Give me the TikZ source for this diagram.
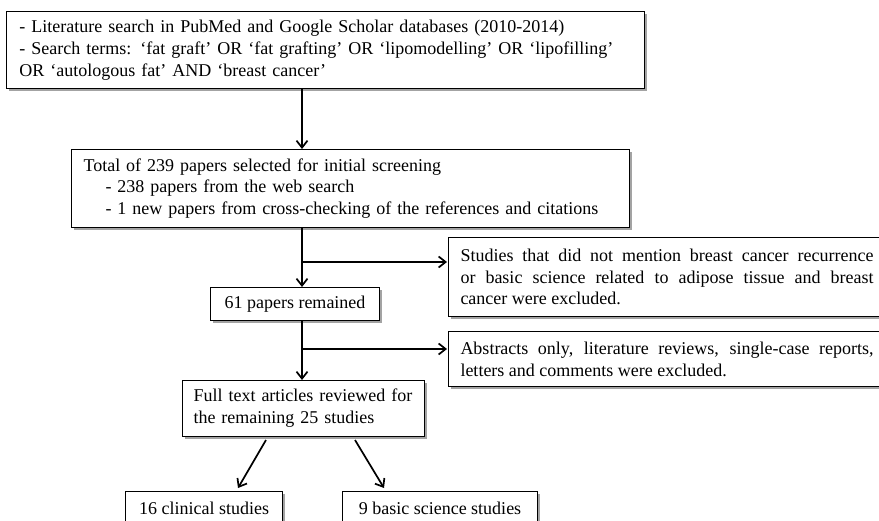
\documentclass[tikz,border=0pt]{standalone}
\usepackage{fontspec}
\setmainfont{Liberation Serif}
\usetikzlibrary{arrows.meta,shadows,calc}
\begin{document}
\begin{tikzpicture}[x=1pt,y=-1pt,
  box/.style={draw=black, line width=1pt, fill=white, anchor=north west,
    inner xsep=12pt, inner ysep=0pt,
    font=\fontsize{18}{21.8}\selectfont,
    drop shadow={fill=black!60, opacity=0.6, shadow xshift=2.5pt, shadow yshift=-2.5pt}},
  arr/.style={line width=1.7pt, -{Straight Barb[length=7pt,width=11pt,line width=1.7pt]}}
]
\useasboundingbox (0,0) rectangle (879,521);
\clip (0,0) rectangle (879,521);

\node[box, minimum width=638pt, minimum height=77pt, text width=612pt, inner xsep=13pt, align=left] (top) at (6,11)
 {- Literature search in PubMed and Google Scholar databases (2010-2014)\\
  - Search terms: ‘fat graft’ OR ‘fat grafting’ OR ‘lipomodelling’ OR ‘lipofilling’\\
  OR ‘autologous fat’ AND ‘breast cancer’};

\node[box, minimum width=558pt, minimum height=78pt, text width=534pt, align=left] (sel) at (71,149)
 {Total of 239 papers selected for initial screening\\
  \hspace*{22pt}- 238 papers from the web search\\
  \hspace*{22pt}- 1 new papers from cross-checking of the references and citations};

\node[box, minimum width=437pt, minimum height=79pt, text width=413pt, align=justify] (ex1) at (448,237)
 {Studies that did not mention breast cancer recurrence\linebreak
  or basic science related to adipose tissue and breast\linebreak
  cancer were excluded.};

\node[box, minimum width=169pt, minimum height=33pt, align=center] (rem) at (210,287)
 {61 papers remained};

\node[box, minimum width=437pt, minimum height=55pt, text width=413pt, align=justify] (ex2) at (448,331)
 {Abstracts only, literature reviews, single-case reports,\linebreak
  letters and comments were excluded.};

\node[box, minimum width=242pt, minimum height=56pt, text width=230pt, inner xsep=6pt, align=left] (ft) at (182,380)
 {\hspace*{5pt}Full text articles reviewed for\\\hspace*{5pt}the remaining 25 studies};

\node[box, minimum width=157pt, minimum height=34pt, align=center] (c16) at (125,491)
 {16 clinical studies};

\node[box, minimum width=195pt, minimum height=34pt, align=center] (c9) at (342,491)
 {9 basic science studies};

\coordinate (cx) at (302,0);
\coordinate (j1) at (302,262);
\coordinate (j2) at (302,349);

\draw[arr] (top.south -| cx) -- (sel.north -| cx);
\draw[arr] (sel.south -| cx) -- (rem.north -| cx);
\draw[arr] (rem.south -| cx) -- (ft.north -| cx);
\draw[arr, shorten >=1pt] (j1) -- (j1 -| ex1.west);
\draw[arr, shorten >=1pt] (j2) -- (j2 -| ex2.west);

\draw[arr] ($(ft.south west)+(84,3)$) -- ($(c16.north west)+(113,-3)$);
\draw[arr] ($(ft.south west)+(173,3)$) -- ($(c9.north west)+(42,-3)$);
\end{tikzpicture}
\end{document}
